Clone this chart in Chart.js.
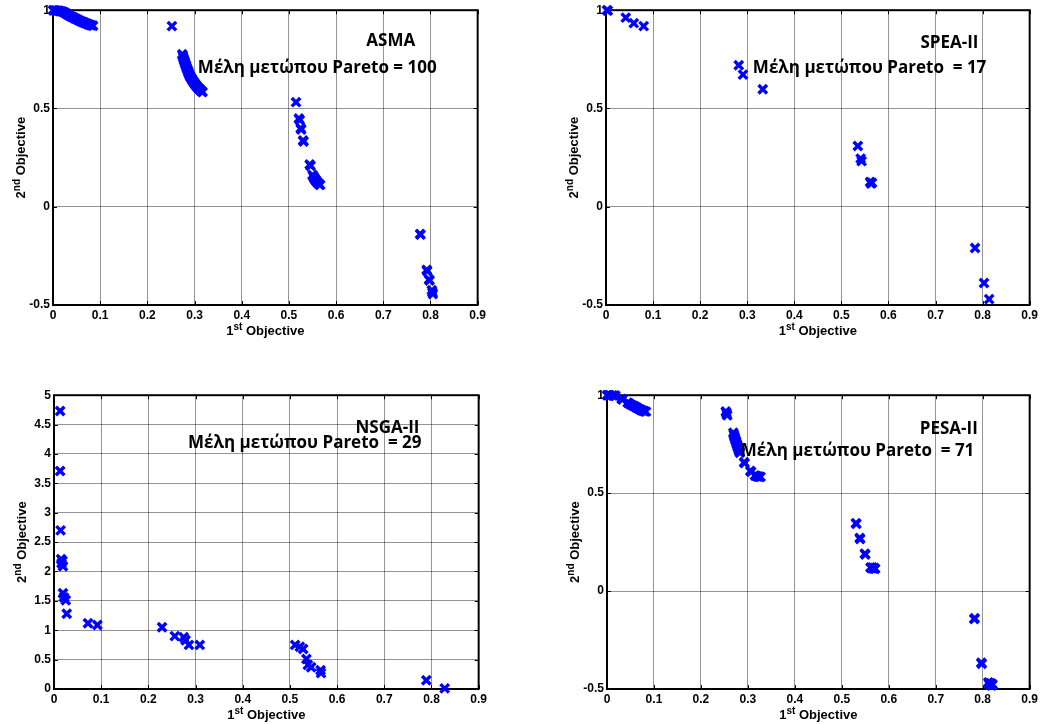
<!DOCTYPE html>
<html>
<head>
<meta charset="utf-8">
<script src="https://cdn.jsdelivr.net/npm/chart.js@4.4.1/dist/chart.umd.min.js"></script>
<style>
  html, body { margin: 0; padding: 0; background: #fff; width: 1042px; height: 724px; overflow: hidden; }
  canvas { position: absolute; }
</style>
</head>
<body>
<canvas id="asma"></canvas>
<canvas id="spea"></canvas>
<canvas id="nsga"></canvas>
<canvas id="pesa"></canvas>
<script>
// Pareto fronts found by each algorithm: [1st objective, 2nd objective]
const ASMA = [
  [0.000, 1.000], [0.002, 0.999], [0.005, 0.999], [0.008, 0.998], [0.011, 0.997],
  [0.014, 0.996], [0.017, 0.995], [0.020, 0.993], [0.023, 0.990], [0.026, 0.986],
  [0.029, 0.982], [0.031, 0.978], [0.034, 0.974], [0.037, 0.970], [0.040, 0.966],
  [0.043, 0.963], [0.046, 0.959], [0.049, 0.956], [0.052, 0.952], [0.055, 0.948],
  [0.058, 0.945], [0.061, 0.942], [0.064, 0.939], [0.067, 0.936], [0.070, 0.933],
  [0.073, 0.930], [0.076, 0.927], [0.079, 0.925], [0.082, 0.923], [0.085, 0.921],
  [0.252, 0.919],
  [0.274, 0.776], [0.275, 0.768], [0.276, 0.760], [0.277, 0.752], [0.278, 0.745],
  [0.279, 0.738], [0.280, 0.731], [0.281, 0.724], [0.282, 0.717], [0.283, 0.710],
  [0.284, 0.703], [0.285, 0.697], [0.286, 0.691], [0.287, 0.685], [0.288, 0.679],
  [0.289, 0.673], [0.290, 0.667], [0.291, 0.662], [0.292, 0.657], [0.294, 0.651],
  [0.295, 0.646], [0.296, 0.641], [0.298, 0.636], [0.299, 0.631], [0.300, 0.627],
  [0.302, 0.622], [0.303, 0.618], [0.305, 0.613], [0.306, 0.609], [0.308, 0.605],
  [0.309, 0.601], [0.311, 0.597], [0.312, 0.594], [0.314, 0.590], [0.315, 0.587],
  [0.317, 0.584],
  [0.515, 0.532], [0.521, 0.449], [0.523, 0.441], [0.525, 0.399], [0.526, 0.393],
  [0.530, 0.337], [0.531, 0.332], [0.544, 0.215], [0.546, 0.208], [0.550, 0.162],
  [0.551, 0.156], [0.553, 0.150], [0.554, 0.145], [0.555, 0.141], [0.556, 0.137],
  [0.557, 0.134], [0.558, 0.131], [0.559, 0.128], [0.560, 0.125], [0.561, 0.122],
  [0.562, 0.119], [0.564, 0.116], [0.565, 0.113], [0.566, 0.111],
  [0.778, -0.139], [0.779, -0.142], [0.792, -0.321], [0.793, -0.327], [0.797, -0.370],
  [0.798, -0.375], [0.803, -0.425], [0.804, -0.435], [0.805, -0.444],
];

const SPEA2 = [
  [0.002, 1.000], [0.004, 0.998], [0.042, 0.962], [0.059, 0.934], [0.080, 0.919],
  [0.282, 0.720], [0.291, 0.672], [0.333, 0.598],
  [0.535, 0.309], [0.541, 0.245], [0.543, 0.232], [0.561, 0.126], [0.563, 0.118], [0.565, 0.122],
  [0.784, -0.210], [0.803, -0.388], [0.814, -0.470],
];

const NSGA2 = [
  [0.013, 4.73], [0.013, 3.71], [0.014, 2.70],
  [0.015, 2.21], [0.018, 2.18], [0.016, 2.14], [0.019, 2.09],
  [0.019, 1.63], [0.021, 1.56], [0.025, 1.51], [0.027, 1.28],
  [0.072, 1.12], [0.092, 1.09],
  [0.229, 1.05], [0.256, 0.90], [0.275, 0.88], [0.279, 0.83], [0.286, 0.75], [0.309, 0.75],
  [0.511, 0.75], [0.521, 0.72], [0.528, 0.68], [0.535, 0.51], [0.538, 0.41],
  [0.545, 0.37], [0.565, 0.32], [0.566, 0.27],
  [0.789, 0.15], [0.828, 0.01],
];

const PESA2 = [
  [0.000, 1.000], [0.003, 1.000], [0.006, 1.000], [0.012, 0.999], [0.015, 0.998],
  [0.018, 0.997], [0.031, 0.981], [0.033, 0.978],
  [0.044, 0.962], [0.047, 0.958], [0.050, 0.953], [0.054, 0.948], [0.058, 0.944],
  [0.061, 0.940], [0.064, 0.936], [0.068, 0.930], [0.071, 0.926], [0.074, 0.923],
  [0.077, 0.920], [0.080, 0.918], [0.083, 0.916],
  [0.253, 0.917], [0.254, 0.911], [0.255, 0.904], [0.256, 0.897],
  [0.269, 0.808], [0.270, 0.799], [0.271, 0.791], [0.272, 0.784], [0.273, 0.776],
  [0.274, 0.769], [0.275, 0.762], [0.276, 0.754], [0.277, 0.747], [0.278, 0.740],
  [0.279, 0.733], [0.280, 0.726], [0.281, 0.719], [0.282, 0.712], [0.283, 0.706],
  [0.292, 0.658], [0.293, 0.653], [0.305, 0.613], [0.307, 0.609], [0.315, 0.590],
  [0.318, 0.587], [0.321, 0.585], [0.324, 0.584], [0.327, 0.583],
  [0.530, 0.347], [0.531, 0.343], [0.538, 0.271], [0.539, 0.266], [0.549, 0.191],
  [0.550, 0.187], [0.561, 0.120], [0.563, 0.117], [0.565, 0.121], [0.567, 0.115],
  [0.569, 0.118], [0.571, 0.114],
  [0.782, -0.143], [0.783, -0.139], [0.797, -0.366], [0.798, -0.371], [0.812, -0.466],
  [0.813, -0.473], [0.815, -0.479], [0.817, -0.470], [0.819, -0.482], [0.821, -0.476],
];

const X_RANGE = [0, 0.9];
const X_STEP = 0.1;
const Y_RANGE_NORM = [-0.5, 1];
const Y_RANGE_NSGA = [0, 5];
const Y_STEP = 0.5;

const AXIS_W = 53;   // room left of the plot for y ticks + title
const AXIS_H = 35;   // room under the plot for x ticks + title
const PAD_T = 10;
const PAD_R = 8;

const LABEL_FAMILY = '"Liberation Sans", Arial, sans-serif';
const NOTE_FONT = 'bold 17px "Open Sans", "Noto Sans", sans-serif';
const GRID_COLOR = "rgba(0,0,0,0.42)";
const MARK_COLOR = "#0000ff";

const panels = [
  {
    id: "asma", area: [53, 10, 428, 295], points: ASMA, yRange: Y_RANGE_NORM,
    name: "ASMA", nameAt: [0.664, 0.817],
    count: `Μέλη μετώπου Pareto = ${ASMA.length}`, countAt: [0.307, 0.680],
  },
  {
    id: "spea", area: [606, 10, 427, 295], points: SPEA2, yRange: Y_RANGE_NORM,
    name: "SPEA-II", nameAt: [0.668, 0.807],
    count: `Μέλη μετώπου Pareto  = ${SPEA2.length}`, countAt: [0.312, 0.680],
  },
  {
    id: "nsga", area: [54, 395, 428, 294], points: NSGA2, yRange: Y_RANGE_NSGA,
    name: "NSGA-II", nameAt: [0.639, 4.354],
    count: `Μέλη μετώπου Pareto  = ${NSGA2.length}`, countAt: [0.284, 4.099],
  },
  {
    id: "pesa", area: [607, 395, 426, 294], points: PESA2, yRange: Y_RANGE_NORM,
    name: "PESA-II", nameAt: [0.666, 0.800],
    count: `Μέλη μετώπου Pareto  = ${PESA2.length}`, countAt: [0.285, 0.689],
  },
];

const fmt = (v) => String(Math.round(v * 10) / 10);

// "1st Objective" style label: big digit, superscript suffix, then the word
function drawSupLabel(ctx, cx, baseline, digit, sup, rest) {
  const big = `bold 13px ${LABEL_FAMILY}`;
  const small = `bold 10px ${LABEL_FAMILY}`;
  ctx.font = big;
  const wd = ctx.measureText(digit).width;
  const wr = ctx.measureText(rest).width;
  ctx.font = small;
  const ws = ctx.measureText(sup).width;
  let x = cx - (wd + ws + wr) / 2;
  ctx.textAlign = "left";
  ctx.textBaseline = "alphabetic";
  ctx.fillStyle = "#000";
  ctx.font = big;
  ctx.fillText(digit, x, baseline);
  x += wd;
  ctx.font = small;
  ctx.fillText(sup, x, baseline - 5);
  x += ws;
  ctx.font = big;
  ctx.fillText(rest, x, baseline);
}

function decorPlugin(p) {
  return {
    id: "decor_" + p.id,
    beforeDatasetsDraw(chart) {
      const { ctx, chartArea: a, scales } = chart;
      ctx.save();
      ctx.strokeStyle = "#000";
      ctx.lineWidth = 1;
      ctx.beginPath();
      scales.x.ticks.forEach((t) => {
        const px = Math.round(scales.x.getPixelForValue(t.value)) + 0.5;
        ctx.moveTo(px, a.bottom); ctx.lineTo(px, a.bottom - 4);
        ctx.moveTo(px, a.top); ctx.lineTo(px, a.top + 4);
      });
      scales.y.ticks.forEach((t) => {
        const py = Math.round(scales.y.getPixelForValue(t.value)) + 0.5;
        ctx.moveTo(a.left, py); ctx.lineTo(a.left + 4, py);
        ctx.moveTo(a.right, py); ctx.lineTo(a.right - 4, py);
      });
      ctx.stroke();
      ctx.lineWidth = 2;
      ctx.strokeRect(a.left, a.top, a.right - a.left, a.bottom - a.top);
      ctx.restore();
    },
    afterDatasetsDraw(chart) {
      const { ctx, chartArea: a, scales } = chart;
      ctx.save();
      ctx.fillStyle = "#000";
      ctx.textAlign = "left";
      ctx.textBaseline = "alphabetic";
      ctx.font = NOTE_FONT;
      ctx.fillText(p.name, scales.x.getPixelForValue(p.nameAt[0]), scales.y.getPixelForValue(p.nameAt[1]));
      ctx.fillText(p.count, scales.x.getPixelForValue(p.countAt[0]), scales.y.getPixelForValue(p.countAt[1]));

      drawSupLabel(ctx, (a.left + a.right) / 2, a.bottom + 30, "1", "st", " Objective");

      ctx.translate(a.left - 28, (a.top + a.bottom) / 2);
      ctx.rotate(-Math.PI / 2);
      drawSupLabel(ctx, 0, 0, "2", "nd", " Objective");
      ctx.restore();
    },
  };
}

function tickOpts(step) {
  return {
    stepSize: step,
    padding: 3,
    color: "#000",
    autoSkip: false,
    maxRotation: 0,
    font: { family: LABEL_FAMILY, size: 12, weight: "bold" },
    callback: fmt,
  };
}

function renderPanel(p) {
  const [L, T, W, H] = p.area;
  const cv = document.getElementById(p.id);
  cv.width = W + AXIS_W + PAD_R;
  cv.height = H + PAD_T + AXIS_H;
  cv.style.left = L - AXIS_W + "px";
  cv.style.top = T - PAD_T + "px";

  new Chart(cv, {
    type: "scatter",
    data: {
      datasets: [
        {
          data: p.points.map(([x, y]) => ({ x, y })),
          pointStyle: "crossRot",
          pointRadius: 6,
          pointBorderWidth: 3.4,
          pointBorderColor: MARK_COLOR,
          pointBackgroundColor: MARK_COLOR,
          clip: false,
        },
      ],
    },
    options: {
      responsive: false,
      animation: false,
      events: [],
      layout: { padding: { left: 0, top: PAD_T, right: PAD_R, bottom: 0 } },
      plugins: { legend: { display: false }, tooltip: { enabled: false } },
      scales: {
        x: {
          type: "linear",
          min: X_RANGE[0],
          max: X_RANGE[1],
          afterFit: (s) => { s.height = AXIS_H; },
          ticks: tickOpts(X_STEP),
          grid: { color: GRID_COLOR, lineWidth: 1, drawTicks: false },
          border: { display: false },
        },
        y: {
          type: "linear",
          min: p.yRange[0],
          max: p.yRange[1],
          afterFit: (s) => { s.width = AXIS_W; },
          ticks: tickOpts(Y_STEP),
          grid: { color: GRID_COLOR, lineWidth: 1, drawTicks: false },
          border: { display: false },
        },
      },
    },
    plugins: [decorPlugin(p)],
  });
}

panels.forEach(renderPanel);
</script>
</body>
</html>
